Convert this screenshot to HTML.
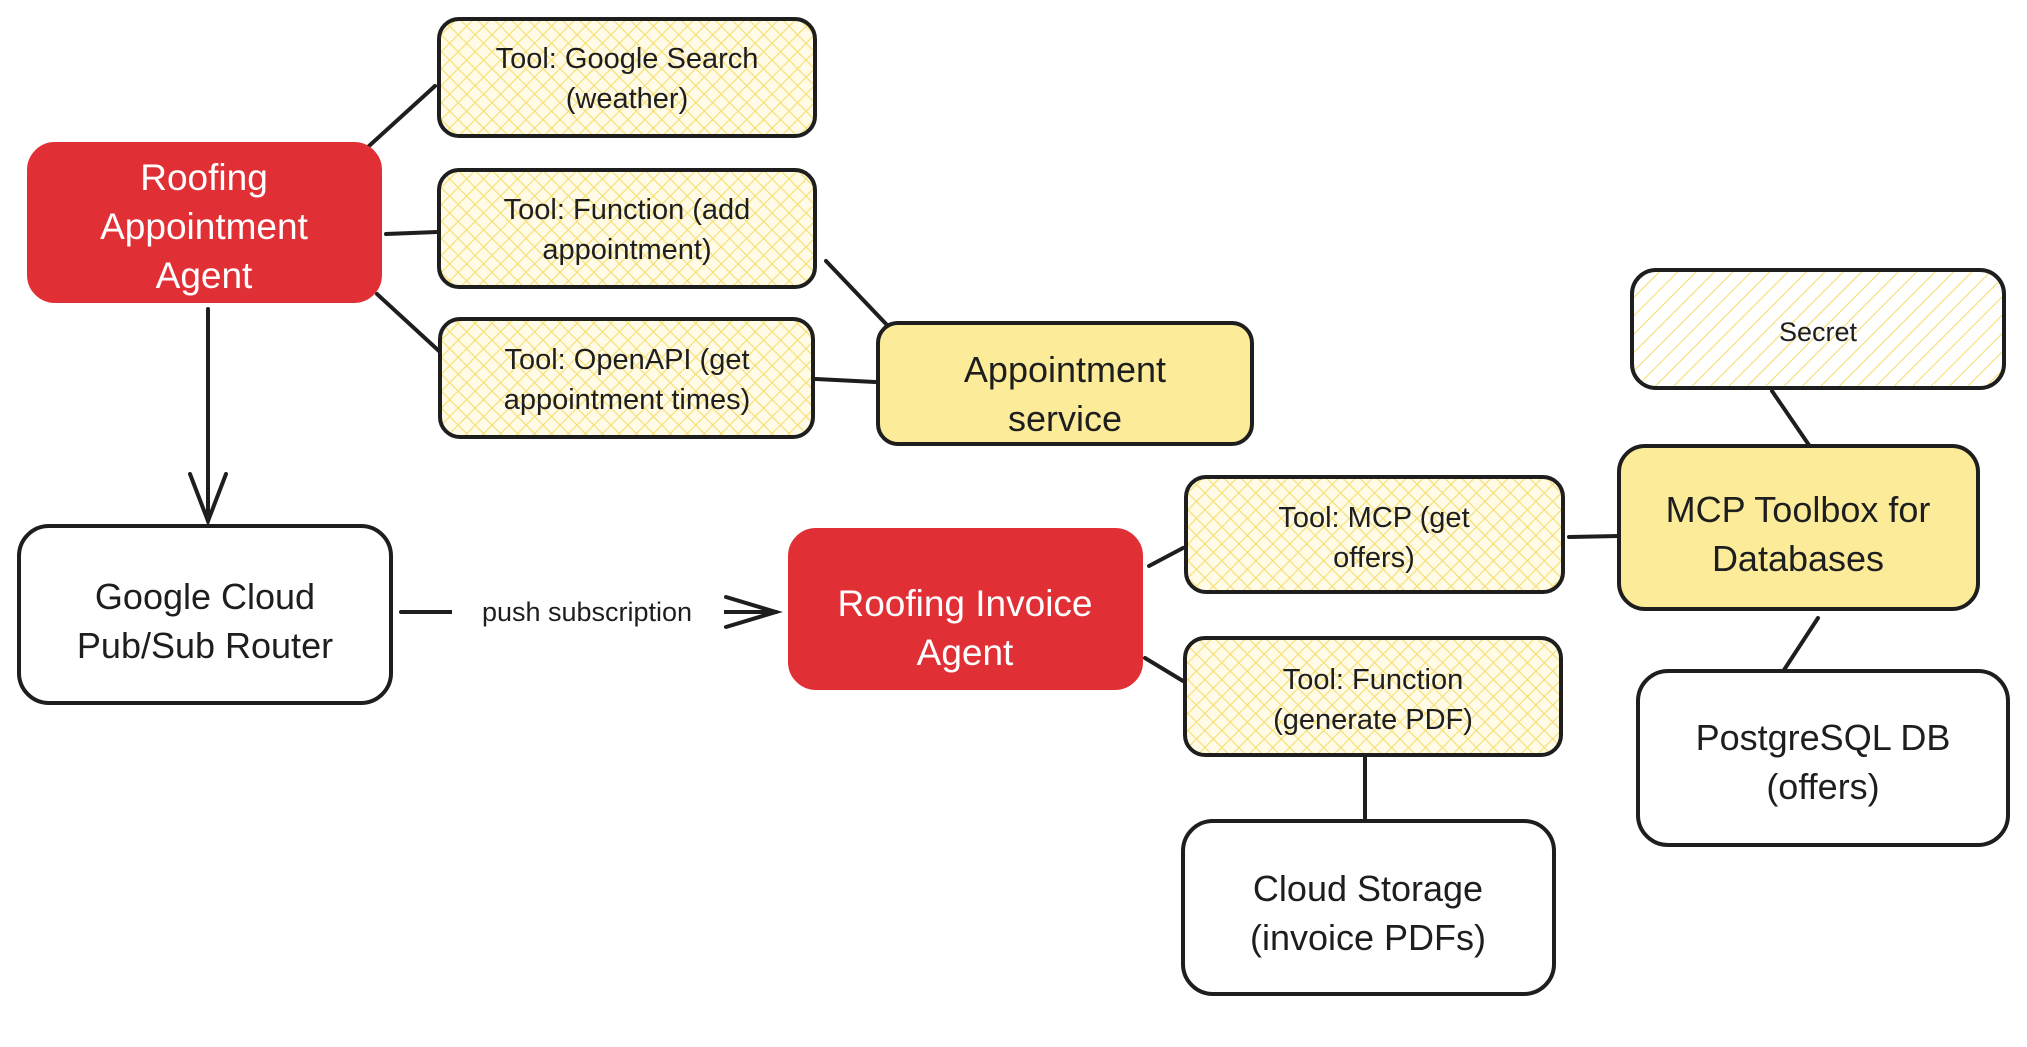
<!DOCTYPE html>
<html><head><meta charset="utf-8"><style>
html,body{margin:0;padding:0;background:#fff;}
svg{display:block;}
text{font-family:"Liberation Sans",sans-serif;text-anchor:middle;fill:#1e1e1e;}
</style></head><body>
<svg width="2027" height="1047" viewBox="0 0 2027 1047" xmlns="http://www.w3.org/2000/svg">
<defs>
<pattern id="ch" width="12" height="12" patternUnits="userSpaceOnUse" patternTransform="rotate(45)">
<rect width="12" height="12" fill="#fffbe6"/>
<path d="M0 0V12M0 0H12" stroke="#f5de70" stroke-width="2.2"/>
</pattern>
<pattern id="hs" width="13" height="13" patternUnits="userSpaceOnUse" patternTransform="rotate(45)">
<rect width="13" height="13" fill="#fff"/>
<path d="M0 0V13" stroke="#f5de70" stroke-width="2.2"/>
</pattern>
</defs>
<g stroke="#1e1e1e" stroke-width="4" fill="none" stroke-linecap="round">
<line x1="369" y1="146" x2="435" y2="86"/>
<line x1="386" y1="234" x2="437" y2="232"/>
<line x1="377" y1="294" x2="439" y2="351"/>
<line x1="826" y1="261" x2="887" y2="325"/>
<line x1="816" y1="379" x2="875" y2="382"/>
<line x1="208" y1="309" x2="208" y2="521"/>
<polyline points="190,474 208,521 226,474"/>
<line x1="401" y1="612" x2="776" y2="612"/>
<polyline points="726,597 776,612 726,627"/>
<line x1="1772" y1="391" x2="1811" y2="448"/>
<line x1="1818" y1="618" x2="1782" y2="673"/>
<line x1="1569" y1="537" x2="1619" y2="536"/>
<line x1="1149" y1="566" x2="1183" y2="548"/>
<line x1="1145" y1="658" x2="1183" y2="681"/>
<line x1="1365" y1="757" x2="1365" y2="818"/>
</g>
<rect x="452" y="592" width="272" height="34" fill="#fff"/>
<text x="587" y="621" font-size="27">push subscription</text>
<g stroke="#1e1e1e" stroke-width="4">
<rect x="29" y="144" width="351" height="157" rx="26" fill="#e03036" stroke="#e03036"/>
<rect x="439" y="19" width="376" height="117" rx="20" fill="url(#ch)"/>
<rect x="439" y="170" width="376" height="117" rx="20" fill="url(#ch)"/>
<rect x="440" y="319" width="373" height="118" rx="20" fill="url(#ch)"/>
<rect x="878" y="323" width="374" height="121" rx="20" fill="#fcec9a"/>
<rect x="19" y="526" width="372" height="177" rx="30" fill="#fff"/>
<rect x="790" y="530" width="351" height="158" rx="26" fill="#e03036" stroke="#e03036"/>
<rect x="1632" y="270" width="372" height="118" rx="24" fill="url(#hs)"/>
<rect x="1619" y="446" width="359" height="163" rx="26" fill="#fcec9a"/>
<rect x="1186" y="477" width="377" height="115" rx="20" fill="url(#ch)"/>
<rect x="1185" y="638" width="376" height="117" rx="20" fill="url(#ch)"/>
<rect x="1183" y="821" width="371" height="173" rx="30" fill="#fff"/>
<rect x="1638" y="671" width="370" height="174" rx="30" fill="#fff"/>
</g>
<g font-size="37">
<text x="204" y="190" style="fill:#fff">Roofing</text>
<text x="204" y="239" style="fill:#fff">Appointment</text>
<text x="204" y="288" style="fill:#fff">Agent</text>
<text x="965" y="616" style="fill:#fff">Roofing Invoice</text>
<text x="965" y="665" style="fill:#fff">Agent</text>
</g>
<g font-size="29">
<text x="627" y="68">Tool: Google Search</text>
<text x="627" y="108">(weather)</text>
<text x="627" y="219">Tool: Function (add</text>
<text x="627" y="259">appointment)</text>
<text x="627" y="369">Tool: OpenAPI (get</text>
<text x="627" y="409">appointment times)</text>
<text x="1374" y="527">Tool: MCP (get</text>
<text x="1374" y="567">offers)</text>
<text x="1373" y="689">Tool: Function</text>
<text x="1373" y="729">(generate PDF)</text>
<text x="1818" y="341" font-size="27">Secret</text>
</g>
<g font-size="36">
<text x="1065" y="382">Appointment</text>
<text x="1065" y="431">service</text>
<text x="205" y="609">Google Cloud</text>
<text x="205" y="658">Pub/Sub Router</text>
<text x="1798" y="522">MCP Toolbox for</text>
<text x="1798" y="571">Databases</text>
<text x="1368" y="901">Cloud Storage</text>
<text x="1368" y="950">(invoice PDFs)</text>
<text x="1823" y="750">PostgreSQL DB</text>
<text x="1823" y="799">(offers)</text>
</g>
</svg>
</body></html>
